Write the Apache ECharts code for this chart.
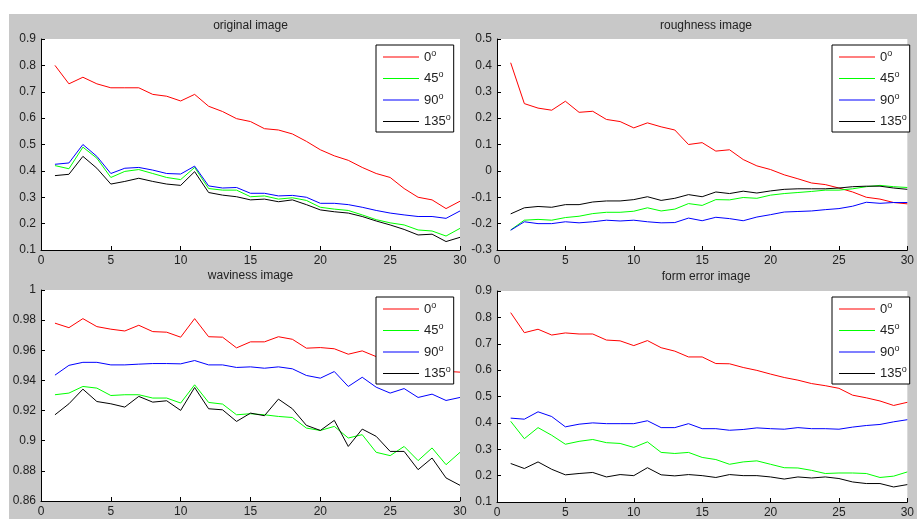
<!DOCTYPE html>
<html>
<head>
<meta charset="utf-8">
<script src="https://cdn.jsdelivr.net/npm/echarts@6/dist/echarts.min.js"></script>
<style>html,body{margin:0;padding:0;background:#fff;}#c{width:917px;height:519px;}</style>
</head>
<body>
<div id="c"></div>
<script>
const xs = [1,2,3,4,5,6,7,8,9,10,11,12,13,14,15,16,17,18,19,20,21,22,23,24,25,26,27,28,29,30];
const seriesNames = ['0','45','90','135'];
const colors = ['#ff0000','#00ff00','#0000ff','#000000'];
const titles = ['original image','roughness image','waviness image','form error image'];

// original image
const orig0   = [0.80,0.73,0.755,0.73,0.715,0.715,0.715,0.69,0.683,0.665,0.69,0.645,0.625,0.598,0.587,0.56,0.555,0.54,0.512,0.48,0.457,0.44,0.413,0.39,0.375,0.333,0.30,0.29,0.257,0.285];
const orig45  = [0.42,0.408,0.49,0.448,0.375,0.398,0.405,0.39,0.375,0.367,0.413,0.333,0.327,0.327,0.302,0.305,0.293,0.298,0.288,0.262,0.255,0.25,0.233,0.215,0.203,0.195,0.176,0.172,0.153,0.182];
const orig90  = [0.425,0.43,0.50,0.455,0.39,0.41,0.413,0.403,0.39,0.388,0.418,0.343,0.335,0.337,0.315,0.315,0.305,0.307,0.30,0.277,0.277,0.272,0.262,0.25,0.24,0.233,0.227,0.227,0.22,0.248];
const orig135 = [0.382,0.387,0.455,0.41,0.35,0.36,0.372,0.36,0.35,0.345,0.397,0.318,0.308,0.302,0.29,0.293,0.283,0.29,0.272,0.252,0.245,0.24,0.227,0.21,0.195,0.178,0.157,0.16,0.132,0.148];

// roughness image
const rough0   = [0.41,0.255,0.238,0.23,0.264,0.222,0.226,0.195,0.187,0.163,0.182,0.167,0.155,0.10,0.107,0.075,0.08,0.043,0.019,0.005,-0.015,-0.03,-0.046,-0.052,-0.065,-0.08,-0.10,-0.107,-0.12,-0.125];
const rough45  = [-0.224,-0.187,-0.184,-0.187,-0.177,-0.172,-0.162,-0.157,-0.157,-0.153,-0.14,-0.152,-0.145,-0.124,-0.131,-0.109,-0.11,-0.101,-0.104,-0.092,-0.086,-0.082,-0.078,-0.073,-0.073,-0.068,-0.06,-0.055,-0.06,-0.063];
const rough90  = [-0.225,-0.193,-0.2,-0.2,-0.193,-0.197,-0.193,-0.187,-0.19,-0.187,-0.193,-0.197,-0.196,-0.179,-0.189,-0.176,-0.181,-0.189,-0.175,-0.166,-0.156,-0.154,-0.152,-0.147,-0.143,-0.134,-0.119,-0.123,-0.12,-0.12];
const rough135 = [-0.163,-0.14,-0.135,-0.138,-0.128,-0.128,-0.118,-0.114,-0.114,-0.109,-0.098,-0.112,-0.104,-0.09,-0.098,-0.08,-0.086,-0.077,-0.084,-0.076,-0.07,-0.068,-0.068,-0.068,-0.065,-0.06,-0.058,-0.058,-0.065,-0.07];

// waviness image
const wav0   = [0.978,0.975,0.981,0.9757,0.974,0.9728,0.9766,0.9724,0.972,0.9687,0.981,0.969,0.9687,0.9616,0.9656,0.9656,0.969,0.9673,0.9614,0.9618,0.961,0.9574,0.9596,0.9558,0.953,0.951,0.949,0.948,0.946,0.9455];
const wav45  = [0.9305,0.9316,0.936,0.9349,0.93,0.9305,0.9305,0.9283,0.9283,0.925,0.9371,0.9254,0.9243,0.9172,0.9179,0.9172,0.9161,0.9154,0.9084,0.9068,0.9095,0.9018,0.904,0.8923,0.8901,0.8962,0.8868,0.8952,0.8841,0.8923];
const wav90  = [0.9435,0.95,0.952,0.952,0.9503,0.9503,0.9508,0.9512,0.9512,0.951,0.9532,0.9503,0.9503,0.9486,0.949,0.9481,0.949,0.9477,0.9433,0.9415,0.9459,0.936,0.9421,0.9355,0.9316,0.9346,0.9287,0.9309,0.9267,0.9287];
const wav135 = [0.9172,0.9245,0.9342,0.926,0.9245,0.9223,0.9294,0.9256,0.9265,0.9201,0.9353,0.9212,0.9205,0.9128,0.9183,0.9166,0.9276,0.9212,0.9102,0.9068,0.9135,0.8962,0.9077,0.9029,0.8929,0.8929,0.8808,0.8885,0.8753,0.8704];

// form error image
const form0   = [0.818,0.742,0.755,0.733,0.741,0.737,0.737,0.714,0.711,0.693,0.712,0.685,0.672,0.65,0.65,0.625,0.624,0.61,0.599,0.585,0.572,0.562,0.549,0.541,0.531,0.505,0.495,0.483,0.466,0.478];
const form45  = [0.406,0.34,0.382,0.353,0.319,0.33,0.337,0.325,0.322,0.307,0.328,0.288,0.284,0.288,0.269,0.261,0.243,0.252,0.256,0.243,0.23,0.229,0.22,0.208,0.21,0.21,0.208,0.193,0.198,0.214];
const form90  = [0.418,0.414,0.442,0.424,0.385,0.395,0.40,0.397,0.397,0.397,0.408,0.382,0.382,0.397,0.378,0.378,0.372,0.375,0.381,0.378,0.376,0.382,0.378,0.378,0.376,0.384,0.39,0.394,0.404,0.412];
const form135 = [0.246,0.227,0.252,0.224,0.203,0.208,0.212,0.195,0.204,0.20,0.23,0.203,0.199,0.204,0.20,0.193,0.204,0.20,0.20,0.195,0.187,0.195,0.191,0.195,0.189,0.176,0.17,0.17,0.157,0.166];

const yMins = [0.1,-0.3,0.86,0.1];
const yMaxs = [0.9,0.5,1.0,0.9];
const yIntervals = [0.1,0.1,0.02,0.1];

const panels = [
  [orig0,orig45,orig90,orig135],
  [rough0,rough45,rough90,rough135],
  [wav0,wav45,wav90,wav135],
  [form0,form45,form90,form135]
];

const FONT = 'Arial, "Liberation Sans", sans-serif';
const gridPos = [
  {left:41, top:39, width:419, height:211},
  {left:497, top:39, width:418, height:211},
  {left:41, top:290, width:419, height:211},
  {left:497, top:291, width:418, height:211}
];
const titlePos = [
  {cx:250.5, top:20},
  {cx:706, top:20},
  {cx:250.5, top:270},
  {cx:706, top:271}
];
const legendPos = [
  {left:376, top:45},
  {left:832, top:45},
  {left:376, top:297},
  {left:832, top:297}
];

const grids = gridPos.map(g => Object.assign({show:true, backgroundColor:'#ffffff', borderWidth:0, containLabel:false}, g));

const xAxes = gridPos.map((g,i) => ({
  type:'value', gridIndex:i, min:0, max:30, interval:5,
  axisLine:{show:true, onZero:false, lineStyle:{color:'#000', width:1}},
  axisTick:{show:true, inside:true, length:4, lineStyle:{color:'#000'}},
  axisLabel:{color:'#222', fontSize:12, fontFamily:FONT, margin:5},
  splitLine:{show:false}
}));
const yAxes = gridPos.map((g,i) => ({
  type:'value', gridIndex:i, min:yMins[i], max:yMaxs[i], interval:yIntervals[i],
  axisLine:{show:true, onZero:false, lineStyle:{color:'#000', width:1}},
  axisTick:{show:true, inside:true, length:4, lineStyle:{color:'#000'}},
  axisLabel:{color:'#222', fontSize:12, fontFamily:FONT, margin:5,
    formatter: v => String(Math.round(v*1000)/1000)},
  splitLine:{show:false}
}));

const series = [];
panels.forEach((vals, p) => {
  vals.forEach((arr, k) => {
    series.push({
      type:'line', name:seriesNames[k], xAxisIndex:p, yAxisIndex:p,
      data: xs.map((x,j) => [x, arr[j]]),
      showSymbol:false, symbol:'none',
      lineStyle:{color:colors[k], width:1},
      itemStyle:{color:colors[k]},
      emphasis:{disabled:true}
    });
  });
});

const titlesOpt = titlePos.map((t,i) => ({
  text: titles[i], left: t.cx, top: t.top, textAlign:'center', padding:0,
  textStyle:{fontSize:12, fontWeight:'normal', color:'#222', fontFamily:FONT}
}));

const legends = legendPos.map(l => ({
  orient:'vertical', left:l.left, top:l.top,
  data: seriesNames, icon:'rect', itemWidth:36, itemHeight:1, itemGap:7,
  padding:[4,3,4,7], backgroundColor:'#ffffff', borderColor:'#000', borderWidth:1, borderRadius:0,
  selectedMode:false,
  formatter: name => '{a|' + name + '}{s|o}',
  textStyle:{color:'#222', fontFamily:FONT,
    rich:{
      a:{fontSize:13, lineHeight:16, fontFamily:FONT, color:'#222'},
      s:{fontSize:9, lineHeight:6, verticalAlign:'top', fontFamily:FONT, color:'#222'}
    }
  }
}));

const chart = echarts.init(document.getElementById('c'), null, {renderer:'canvas'});
chart.setOption({
  animation:false,
  backgroundColor:'#ffffff',
  graphic:[{type:'rect', z:-10, silent:true, shape:{x:9, y:14, width:908, height:505}, style:{fill:'#c8c8c8'}}],
  title: titlesOpt,
  legend: legends,
  grid: grids,
  xAxis: xAxes,
  yAxis: yAxes,
  series: series
});
</script>
</body>
</html>
